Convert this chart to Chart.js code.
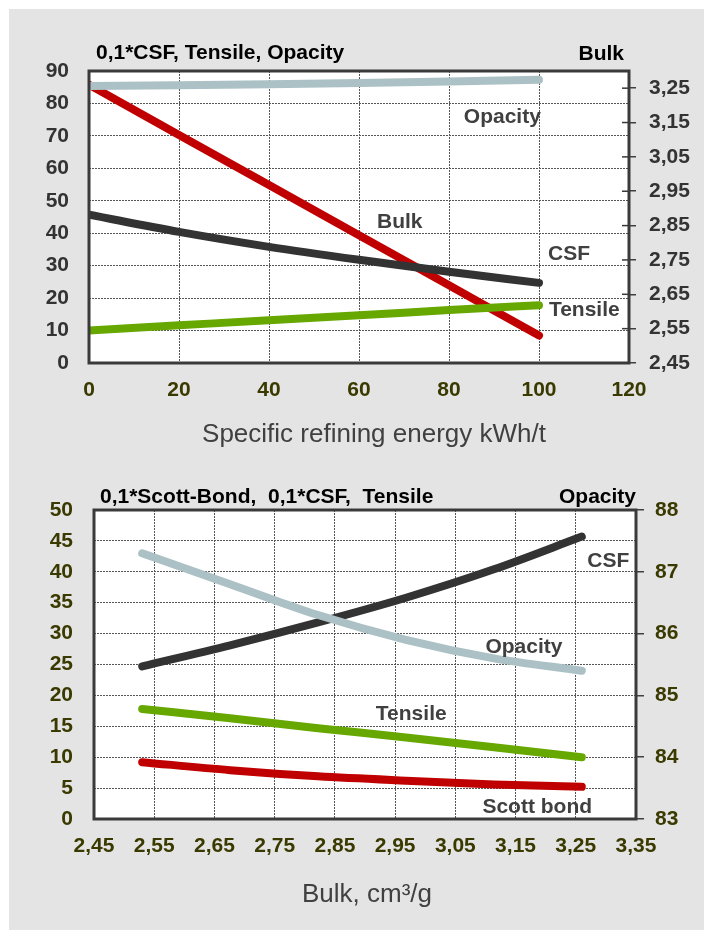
<!DOCTYPE html>
<html>
<head>
<meta charset="utf-8">
<script src="https://cdn.jsdelivr.net/npm/chart.js@4.4.1/dist/chart.umd.min.js"></script>
<style>
  html, body { margin: 0; padding: 0; background: #fff; }
  #panel { position: absolute; left: 9px; top: 9px; width: 695px; height: 921px; background: #e4e4e4; }
  canvas { position: absolute; left: 0; }
  #top { top: 0; }
  #bottom { top: 465px; }
</style>
</head>
<body>
<div id="panel"></div>
<canvas id="top" width="704" height="465"></canvas>
<canvas id="bottom" width="704" height="465"></canvas>
<script>
// series read at 0..100 kWh/t specific refining energy
const energy    = [0, 20, 40, 60, 80, 100];
const bulk      = [3.26, 3.114, 2.968, 2.822, 2.676, 2.53];
const csf       = [45.7, 40.4, 35.8, 31.8, 28.1, 24.7];   // 0,1*CSF
const tensile   = [10.0, 11.6, 13.2, 14.7, 16.3, 17.8];
const opacity   = [85.4, 85.6, 85.9, 86.3, 86.8, 87.3];
const scottBond = [5.2, 5.6, 6.2, 6.9, 7.9, 9.2];          // 0,1*Scott bond

// axis ticks
const energyTicks     = [0, 20, 40, 60, 80, 100, 120];
const topLeftTicks    = [0, 10, 20, 30, 40, 50, 60, 70, 80, 90];
const bulkTicks       = [2.45, 2.55, 2.65, 2.75, 2.85, 2.95, 3.05, 3.15, 3.25];
const bulkAxisTicks   = [2.45, 2.55, 2.65, 2.75, 2.85, 2.95, 3.05, 3.15, 3.25, 3.35];
const bottomLeftTicks = [0, 5, 10, 15, 20, 25, 30, 35, 40, 45, 50];
const opacityTicks    = [83, 84, 85, 86, 87, 88];

const RED = '#c00000', GREEN = '#66a800', DARK = '#333333', GREY = '#abc1c5';
const OLIVE = '#3a3a00', INK = '#404040';
const FONT = '"Liberation Sans", Arial, sans-serif';

Chart.defaults.font.family = FONT;
Chart.defaults.animation = false;

const comma = v => Number(v).toFixed(2).replace('.', ',');
const fixedTicks = list => s => { s.ticks = list.map(v => ({ value: v })); };
const tickFont = { size: 21, weight: 'bold' };
const gridLines = { color: '#555', lineWidth: 1, drawTicks: false };
const gridDash = { display: false, dash: [2, 1] };

// white plot area + dark frame, optional tick marks crossing the axis
const plotFrame = {
  id: 'plotFrame',
  beforeDraw(chart) {
    const { ctx, chartArea: a } = chart;
    ctx.save();
    ctx.fillStyle = '#fff';
    ctx.fillRect(a.left, a.top, a.width, a.height);
    ctx.restore();
  },
  afterDatasetsDraw(chart, args, opts) {
    const { ctx, chartArea: a } = chart;
    ctx.save();
    ctx.strokeStyle = '#3a3a3a';
    ctx.lineWidth = 3;
    ctx.strokeRect(a.left, a.top, a.width, a.height);
    if (opts.innerTicks) {
      const s = chart.scales[opts.innerTicks];
      ctx.lineWidth = 1.5;
      s.ticks.forEach(t => {
        const y = s.getPixelForValue(t.value);
        ctx.beginPath();
        ctx.moveTo(a.right - 7, y);
        ctx.lineTo(a.right, y);
        ctx.stroke();
      });
    }
    ctx.restore();
  }
};

// titles (pixel) and series labels (data coordinates)
const textLayer = {
  id: 'textLayer',
  afterDraw(chart, args, opts) {
    const ctx = chart.ctx;
    ctx.save();
    (opts.items || []).forEach(it => {
      let x = it.px, y = it.py;
      if (it.x !== undefined) {
        x = chart.scales.x.getPixelForValue(it.x);
        y = chart.scales[it.axis || 'y'].getPixelForValue(it.y);
      }
      ctx.font = (it.weight || 'bold') + ' ' + (it.size || 21) + 'px ' + FONT;
      ctx.fillStyle = it.color || INK;
      ctx.textAlign = it.align || 'left';
      ctx.textBaseline = 'alphabetic';
      ctx.fillText(it.text, x, y);
    });
    ctx.restore();
  }
};

const line = (label, color, pts, axis) => ({
  label, data: pts, yAxisID: axis,
  borderColor: color, borderWidth: 8, borderCapStyle: 'round', borderJoinStyle: 'round',
  pointRadius: 0, cubicInterpolationMode: 'monotone', clip: 0, fill: false
});

// ---- top chart: properties vs refining energy
const at = arr => energy.map((e, i) => ({ x: e, y: arr[i] }));

new Chart(document.getElementById('top'), {
  type: 'line',
  data: {
    datasets: [
      line('Opacity', GREY, at(opacity), 'y'),
      line('CSF', DARK, at(csf), 'y'),
      line('Tensile', GREEN, at(tensile), 'y'),
      line('Bulk', RED, at(bulk), 'y1')
    ]
  },
  options: {
    responsive: false,
    layout: { padding: { top: 71, left: 0, right: 0, bottom: 0 } },
    scales: {
      x: {
        type: 'linear', min: 0, max: 120,
        afterBuildTicks: fixedTicks(energyTicks),
        afterFit: s => { s.height = 102; },
        grid: gridLines, border: gridDash,
        ticks: { color: OLIVE, font: tickFont, padding: 15, maxRotation: 0 }
      },
      y: {
        min: 0, max: 90,
        afterBuildTicks: fixedTicks(topLeftTicks),
        afterFit: s => { s.width = 89; },
        grid: gridLines, border: gridDash,
        ticks: { color: DARK, font: tickFont, padding: 20 }
      },
      y1: {
        position: 'right', min: 2.45, max: 3.30,
        afterBuildTicks: fixedTicks(bulkTicks),
        afterFit: s => { s.width = 75; },
        grid: { drawOnChartArea: false, drawTicks: true, tickLength: 7, color: INK, lineWidth: 1.5 },
        border: { display: false },
        ticks: { color: DARK, font: tickFont, padding: 13, callback: comma }
      }
    },
    plugins: {
      legend: { display: false },
      tooltip: { enabled: false },
      plotFrame: { innerTicks: 'y1' },
      textLayer: {
        items: [
          { text: '0,1*CSF, Tensile, Opacity', px: 96, py: 59, color: '#000' },
          { text: 'Bulk', px: 624, py: 60, color: '#000', align: 'right' },
          { text: 'Specific refining energy kWh/t', px: 374, py: 442, size: 26, weight: 'normal', align: 'center' },
          { text: 'Opacity', x: 83.3, y: 74.0 },
          { text: 'Bulk', x: 64.0, y: 41.6 },
          { text: 'CSF', x: 102.0, y: 31.7 },
          { text: 'Tensile', x: 102.2, y: 14.5 }
        ]
      }
    }
  },
  plugins: [plotFrame, textLayer]
});

// ---- bottom chart: properties vs bulk
const byBulk = arr => bulk.map((b, i) => ({ x: b, y: arr[i] })).reverse();

new Chart(document.getElementById('bottom'), {
  type: 'line',
  data: {
    datasets: [
      line('Opacity', GREY, byBulk(opacity), 'y1'),
      line('CSF', DARK, byBulk(csf), 'y'),
      line('Tensile', GREEN, byBulk(tensile), 'y'),
      line('Scott bond', RED, byBulk(scottBond), 'y')
    ]
  },
  options: {
    responsive: false,
    layout: { padding: { top: 45, left: 0, right: 0, bottom: 0 } },
    scales: {
      x: {
        type: 'linear', min: 2.45, max: 3.35,
        afterBuildTicks: fixedTicks(bulkAxisTicks),
        afterFit: s => { s.height = 111; },
        grid: gridLines, border: gridDash,
        ticks: { color: OLIVE, font: tickFont, padding: 15, maxRotation: 0, callback: comma }
      },
      y: {
        min: 0, max: 50,
        afterBuildTicks: fixedTicks(bottomLeftTicks),
        afterFit: s => { s.width = 94; },
        grid: gridLines, border: gridDash,
        ticks: { color: OLIVE, font: tickFont, padding: 21 }
      },
      y1: {
        position: 'right', min: 83, max: 88,
        afterBuildTicks: fixedTicks(opacityTicks),
        afterFit: s => { s.width = 68; },
        grid: { drawOnChartArea: false, drawTicks: true, tickLength: 8, color: INK, lineWidth: 1.5 },
        border: { display: false },
        ticks: { color: OLIVE, font: tickFont, padding: 11 }
      }
    },
    plugins: {
      legend: { display: false },
      tooltip: { enabled: false },
      plotFrame: {},
      textLayer: {
        items: [
          { text: '0,1*Scott-Bond,  0,1*CSF,  Tensile', px: 100, py: 38, color: '#000' },
          { text: 'Opacity', px: 636, py: 38, color: '#000', align: 'right' },
          { text: 'Bulk, cm\u00b3/g', px: 367, py: 437, size: 26, weight: 'normal', align: 'center' },
          { text: 'CSF', x: 3.269, y: 40.8 },
          { text: 'Opacity', x: 3.100, y: 26.9 },
          { text: 'Tensile', x: 2.918, y: 16.0 },
          { text: 'Scott bond', x: 3.095, y: 1.0 }
        ]
      }
    }
  },
  plugins: [plotFrame, textLayer]
});
</script>
</body>
</html>
